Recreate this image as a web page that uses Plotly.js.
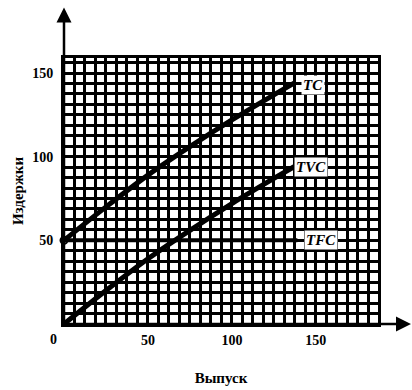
<!DOCTYPE html>
<html>
<head>
<meta charset="utf-8">
<script src="https://cdn.plot.ly/plotly-3.0.1.min.js"></script>
<style>html,body{margin:0;padding:0;background:#fff}#chart{width:412px;height:390px}</style>
</head>
<body>
<div id="chart"></div>
<script>
// Output (Выпуск) and costs (Издержки)
var output = [0, 25, 50, 75, 100, 125, 137];
var tvc    = [0, 20, 39, 56, 72, 87, 94];
var tc     = [50, 70, 89, 106, 122, 137, 144];
var tfcOutput = [0, 139];
var tfc       = [50, 50];
var xTicks = [50, 100, 150];
var yTicks = [50, 100, 150];
var curveNames = ['TC', 'TVC', 'TFC'];
var labelPos = {TC: [148, 143], TVC: [147, 94], TFC: [153, 50]};

var lineStyle = {color: '#000', width: 5, shape: 'spline', smoothing: 0.8};
var traces = [
  {x: output, y: tc, mode: 'lines', line: lineStyle, name: 'TC', cliponaxis: false},
  {x: output, y: tvc, mode: 'lines', line: lineStyle, name: 'TVC', cliponaxis: false},
  {x: tfcOutput, y: tfc, mode: 'lines', line: {color: '#000', width: 4}, name: 'TFC', cliponaxis: false},
  {x: [output[0]], y: [tc[0]], mode: 'markers', cliponaxis: false,
   marker: {symbol: 'circle-open', size: 7, color: '#000', line: {width: 2, color: '#000'}}}
];

var tickFont = {family: 'Liberation Serif, serif', size: 14, color: '#000'};
var gridMinor = {tickmode: 'linear', tick0: 0, dtick: 6.25, showgrid: true, gridcolor: '#000', gridwidth: 3, ticks: ''};

var annotations = curveNames.map(function (n) {
  return {x: labelPos[n][0], y: labelPos[n][1], xref: 'x', yref: 'y', text: '<b><i>' + n + '</i></b>',
    showarrow: false, bgcolor: '#fff', borderpad: 1,
    font: {family: 'Liberation Serif, serif', size: 15, color: '#000'}};
});
// axis arrows
annotations.push({x: 1.105, y: 0, xref: 'paper', yref: 'paper', ax: -347, ay: 0, axref: 'pixel', ayref: 'pixel',
  text: '', showarrow: true, arrowhead: 2, arrowsize: 1.2, arrowwidth: 2.5, arrowcolor: '#000'});
annotations.push({x: 0, y: 1.19, xref: 'paper', yref: 'paper', ax: 0, ay: 317, axref: 'pixel', ayref: 'pixel',
  text: '', showarrow: true, arrowhead: 2, arrowsize: 1.2, arrowwidth: 2.5, arrowcolor: '#000'});
annotations.push({x: 0, y: 0, xref: 'paper', yref: 'paper', xanchor: 'center', yanchor: 'middle',
  xshift: -11, yshift: -15, text: '<b>0</b>', showarrow: false, font: tickFont});

var layout = {
  width: 412, height: 390,
  margin: {l: 64, r: 34, t: 58, b: 66},
  paper_bgcolor: '#fff', plot_bgcolor: '#fff',
  showlegend: false,
  xaxis: {
    range: [0, 187], tickmode: 'array', tickvals: xTicks, ticktext: xTicks.map(function(v){return '<b>' + v + '</b>';}),
    showgrid: true, gridcolor: '#000', gridwidth: 3, zeroline: false,
    showline: true, linecolor: '#000', linewidth: 3, mirror: true, ticks: '', ticklabelstandoff: 1,
    tickfont: tickFont, minor: gridMinor,
    title: {text: '<b>Выпуск</b>', font: {family: 'Liberation Serif, serif', size: 15, color: '#000'}, standoff: 26}
  },
  yaxis: {
    range: [0, 159], tickmode: 'array', tickvals: yTicks, ticktext: yTicks.map(function(v){return '<b>' + v + '</b>';}),
    showgrid: true, gridcolor: '#000', gridwidth: 3, zeroline: false,
    showline: true, linecolor: '#000', linewidth: 3, mirror: true, ticks: '', ticklabelstandoff: 5,
    tickfont: tickFont, minor: gridMinor,
    title: {text: '<b>Издержки</b>', font: {family: 'Liberation Serif, serif', size: 15, color: '#000'}, standoff: 5}
  },
  annotations: annotations
};

Plotly.newPlot('chart', traces, layout, {displayModeBar: false, staticPlot: true});
</script>
</body>
</html>
